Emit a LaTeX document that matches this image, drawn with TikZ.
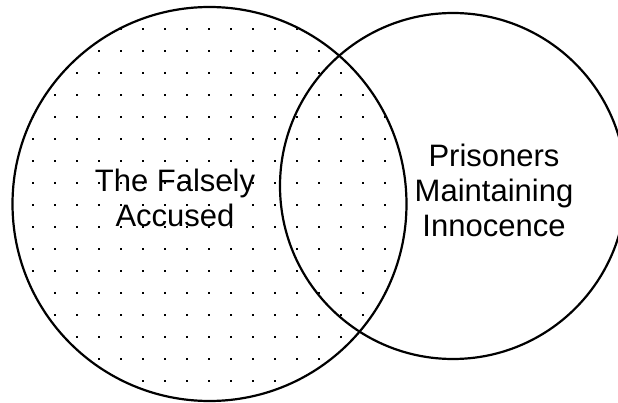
\documentclass[tikz,border=0pt]{standalone}
\usepackage{fontspec}
\setmainfont{Liberation Sans}
\usepackage{tikz}

\begin{document}
\begin{tikzpicture}[x=1pt, y=-1pt,
    venn/.style={draw, circle, line width=2.2pt, inner sep=0pt},
    label/.style={align=center, inner sep=0pt, font=\fontsize{31}{35}\selectfont}]
    \useasboundingbox (0,0) rectangle (618,403);
    %Sets
    \node [venn, minimum size=394pt] (falsely) at (209.5,204) {};
    \node [venn, minimum size=346pt] (innocence) at (453,186) {};

    %Dots
    \begin{scope}
    \clip (falsely.center) circle [radius=196pt];
    \foreach \i in {0,...,18}
        \foreach \j in {0,...,18}
            \fill (9.7+22*\i, 6.3+22*\j) rectangle ++(2,2);
    \end{scope}

    %Labels
    \node [label] (falselytext) at (175,198) {The Falsely\\Accused};
    \node [label] (innocencetext) at (494,190) {Prisoners\\Maintaining\\Innocence};
\end{tikzpicture}
\end{document}
